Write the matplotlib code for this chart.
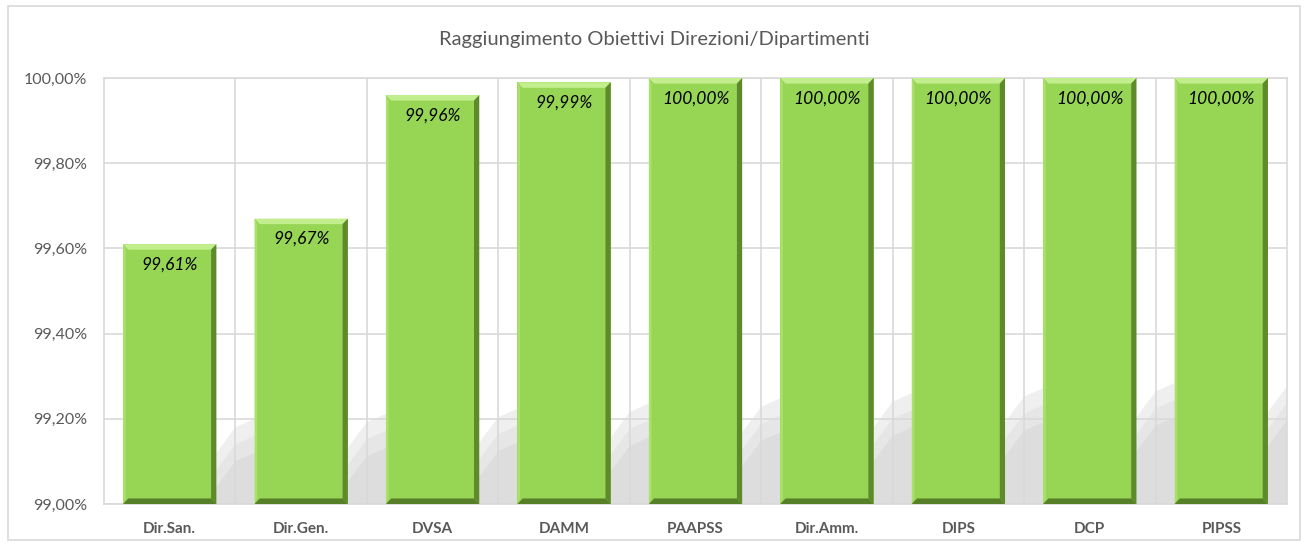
#!/usr/bin/env python3
"""Raggiungimento Obiettivi Direzioni/Dipartimenti - bar chart."""
import matplotlib
matplotlib.use('Agg')
import matplotlib.pyplot as plt
from matplotlib.patches import Rectangle, Polygon
from matplotlib.ticker import FuncFormatter

categories = ['Dir.San.', 'Dir.Gen.', 'DVSA', 'DAMM', 'PAAPSS',
              'Dir.Amm.', 'DIPS', 'DCP', 'PIPSS']
values = [99.61, 99.67, 99.96, 99.99, 100.00, 100.00, 100.00, 100.00, 100.00]
y_ticks = [99.0, 99.2, 99.4, 99.6, 99.8, 100.0]

BAR_GREEN = '#97d655'
TOP_LIGHT = '#c2ee8e'
SIDE_DARK = '#5e8a2c'
BOTTOM_DARK = '#567f28'
GRID = '#d9d9d9'
TEXT_GRAY = '#595959'

plt.rcParams['font.family'] = ['Lato', 'DejaVu Sans']

fig = plt.figure(figsize=(13.08, 5.47), dpi=100)
fig.patch.set_facecolor('white')

# outer chart frame
fig.patches.append(Rectangle((8 / 1308, 1 - 540 / 547), 1292 / 1308, 534 / 547,
                             transform=fig.transFigure, fill=False,
                             edgecolor=GRID, linewidth=1.2))

ax = fig.add_axes([104 / 1308, 1 - 504 / 547, 1183 / 1308, 426 / 547])
ax.set_xlim(-0.5, len(categories) - 0.5)
ax.set_ylim(99.0, 100.0)

width = 0.71
xs = list(range(len(categories)))
bars = ax.bar(xs, [v - 99.0 for v in values], bottom=99.0, width=width,
              color=BAR_GREEN, edgecolor='none', zorder=3)

# soft floor shadows to the right of each bar (layered for a faded look)
gap = 1 - width
for i, b in enumerate(bars):
    x1 = b.get_x() + b.get_width()
    lift = 0.012 * i
    for k, (col, h) in enumerate([('#efefef', 0.2), ('#e6e6e6', 0.16), ('#dddddd', 0.12)]):
        ax.add_patch(Polygon([(x1, 99.0), (x1 + gap, 99.0), (x1 + gap, 99.0 + h + lift),
                              (x1 + gap * 0.5, 99.0 + h - 0.02 + lift), (x1, 99.0 + h - 0.08 + lift)],
                             closed=True, facecolor=col, edgecolor='none', zorder=0.5 + k * 0.1))

# bevel effect
bx = 0.04    # horizontal bevel size in data units
by = 0.013   # vertical bevel size in data units
for b in bars:
    x0 = b.get_x()
    x1 = x0 + b.get_width()
    y0 = 99.0
    y1 = y0 + b.get_height()
    ax.add_patch(Polygon([(x0, y1), (x1, y1), (x1 - bx, y1 - by), (x0 + bx, y1 - by)],
                         closed=True, facecolor=TOP_LIGHT, edgecolor='none', zorder=4))
    ax.add_patch(Polygon([(x1, y1), (x1, y0), (x1 - bx, y0 + by), (x1 - bx, y1 - by)],
                         closed=True, facecolor=SIDE_DARK, edgecolor='none', zorder=4))
    ax.add_patch(Polygon([(x0, y0), (x1, y0), (x1 - bx, y0 + by), (x0 + bx, y0 + by)],
                         closed=True, facecolor=BOTTOM_DARK, edgecolor='none', zorder=4))
    ax.add_patch(Polygon([(x0, y1), (x0, y0), (x0 + bx * 0.5, y0 + by), (x0 + bx * 0.5, y1 - by)],
                         closed=True, facecolor='#a9e16b', edgecolor='none', zorder=4))

# value labels
for x, v in zip(xs, values):
    ax.text(x, v - 0.048, f'{v:.2f}%'.replace('.', ','), ha='center', va='center',
            fontsize=12.5, style='italic', color='black', zorder=5)

# grid
ax.set_yticks(y_ticks)
ax.yaxis.set_major_formatter(FuncFormatter(lambda v, p: f'{v:.2f}%'.replace('.', ',')))
ax.set_xticks(xs)
ax.set_xticklabels(categories, fontsize=11, fontweight='bold', color=TEXT_GRAY)
for x in xs[:-1]:
    ax.axvline(x + 0.5, color=GRID, linewidth=1.2, zorder=1)
for y in y_ticks:
    ax.axhline(y, color=GRID, linewidth=1.2, zorder=1)
for s in ax.spines.values():
    s.set_color(GRID)
    s.set_linewidth(1.2)
ax.tick_params(axis='both', length=0)
ax.tick_params(axis='y', labelsize=11.5, labelcolor=TEXT_GRAY, pad=12)
ax.tick_params(axis='x', pad=13)

fig.text(0.5, 1 - 40 / 547, 'Raggiungimento Obiettivi Direzioni/Dipartimenti',
         ha='center', va='center', fontsize=14.5, color=TEXT_GRAY)

fig.savefig('out.png', dpi=100, facecolor='white')
